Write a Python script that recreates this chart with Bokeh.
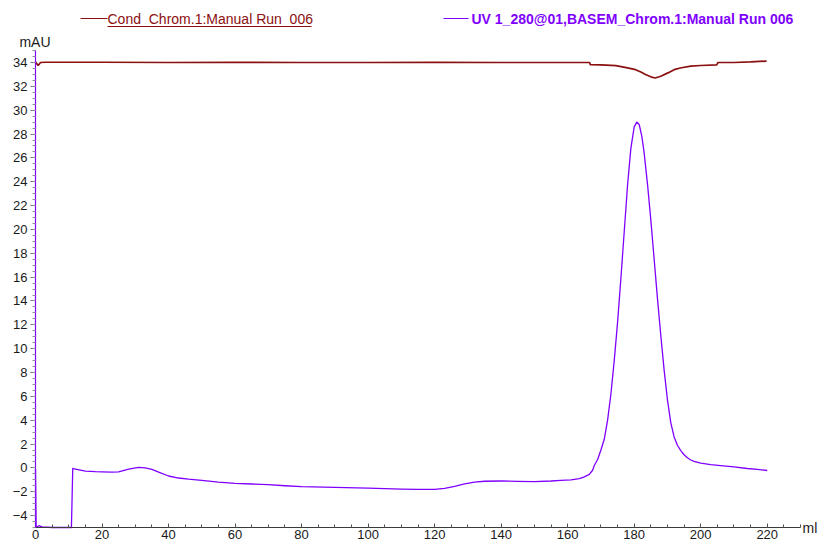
from bokeh.plotting import figure
from bokeh.models import Range1d, FixedTicker, Label
from bokeh.embed import file_html
from bokeh.resources import INLINE

# ---------------- data ----------------
uv_ml = [0.0, 0.2, 1.0, 2.0, 5.0, 10.8, 11.2, 12.0, 15.0, 18.0, 20.0, 23.0, 25.0, 28.0, 31.0, 33.0,
         35.0, 37.0, 40.0, 43.0, 46.0, 50.0, 55.0, 60.0, 65.0, 70.0, 75.0, 80.0, 90.0, 100.0, 110.0,
         115.0, 120.0, 123.0, 126.0, 129.0, 132.0, 135.0, 140.0, 145.0, 150.0, 155.0, 158.0, 161.0,
         163.5, 165.0, 166.5, 167.5, 168.0, 169.0, 170.0, 171.0, 172.0, 173.0, 174.0, 175.0, 176.0,
         177.0, 178.0, 179.0, 180.0, 180.8, 181.5, 182.3, 183.0, 184.0, 185.0, 186.0, 187.0, 188.0,
         189.0, 190.0, 191.0, 192.0, 193.0, 194.0, 195.0, 196.0, 197.0, 198.0, 200.0, 203.0, 206.0,
         210.0, 214.0, 217.0, 220.0]
uv_mau = [-0.1, -5.0, -4.85, -4.95, -5.0, -5.0, -0.05, -0.1, -0.28, -0.32, -0.33, -0.35, -0.33, -0.1,
          0.05, 0.0, -0.12, -0.35, -0.68, -0.85, -0.95, -1.05, -1.2, -1.3, -1.35, -1.4, -1.5, -1.58,
          -1.63, -1.7, -1.78, -1.8, -1.8, -1.72, -1.55, -1.35, -1.2, -1.12, -1.1, -1.13, -1.15, -1.1,
          -1.05, -1.0, -0.9, -0.75, -0.55, -0.2, 0.2, 0.7, 1.5, 2.4, 4.0, 6.2, 9.0, 12.2, 15.9, 19.8,
          23.7, 26.8, 28.6, 29.0, 28.8, 27.8, 26.4, 23.8, 20.8, 17.5, 14.2, 11.1, 8.2, 5.7, 3.8, 2.6,
          1.9, 1.45, 1.1, 0.85, 0.66, 0.54, 0.4, 0.28, 0.19, 0.08, -0.05, -0.12, -0.22]

cond_ml = [0.0, 0.8, 1.5, 3.0, 20.0, 40.0, 60.0, 80.0, 100.0, 120.0, 140.0, 160.0, 166.6, 166.8,
           170.0, 174.5, 178.0, 180.4, 182.0, 183.4, 185.0, 186.3, 188.0, 190.3, 192.0, 194.2, 197.0,
           200.0, 204.8, 205.2, 210.0, 215.0, 219.8]
cond_mau = [34.05, 33.75, 34.0, 34.02, 34.02, 34.0, 34.02, 34.0, 34.0, 34.02, 34.0, 34.0, 34.0, 33.82,
            33.8, 33.74, 33.55, 33.4, 33.2, 33.0, 32.8, 32.7, 32.85, 33.15, 33.4, 33.56, 33.7,
            33.75, 33.8, 34.0, 34.0, 34.05, 34.12]

x_major = [0, 20, 40, 60, 80, 100, 120, 140, 160, 180, 200, 220]
x_minor = list(range(0, 231, 5))
y_major = list(range(-4, 35, 2))
y_minor = [v / 2 for v in range(-10, 71)]

cond_name = "Cond_Chrom.1:Manual Run_006"
uv_name = "UV 1_280@01,BASEM_Chrom.1:Manual Run  006"
x_unit = "ml"
y_unit = "mAU"

# ---------------- layout ----------------
W, H = 818, 542
ORIGIN_X = 35          # canvas px of ml = 0
END_X = 800            # canvas px of ml = 230
SX = (END_X - ORIGIN_X) / 230.0
ROW_34 = 62            # canvas px of 34 mAU
ROW_M5 = 527           # canvas px of -5 mAU
SY = (ROW_M5 - ROW_34) / 39.0

X_START = -ORIGIN_X / SX
X_END = (W - ORIGIN_X) / SX
Y_TOP = 34 + ROW_34 / SY
Y_BOT = Y_TOP - H / SY

COND_C = "#8B1010"
UV_C = "#7F00FF"
FONT = "Liberation Sans"


def px_x(cx):
    return X_START + cx / SX


def px_y(cy):
    return Y_TOP - cy / SY


p = figure(width=W, height=H, output_backend="svg", toolbar_location=None,
           x_range=Range1d(X_START, X_END), y_range=Range1d(Y_BOT, Y_TOP),
           min_border_left=0, min_border_right=0, min_border_top=0,
           min_border_bottom=0)
p.outline_line_color = None
p.grid.visible = False
p.background_fill_color = "white"
p.border_fill_color = "white"

# x axis
xa = p.xaxis[0]
xa.fixed_location = -5
xa.bounds = (0, 230)
xa.ticker = FixedTicker(ticks=x_major, minor_ticks=x_minor)
xa.axis_line_color = "#3a3a3a"
xa.major_tick_line_color = "#505050"
xa.minor_tick_line_color = "#505050"
xa.major_tick_in = 4
xa.major_tick_out = 0
xa.minor_tick_in = 3
xa.minor_tick_out = 0
xa.major_label_standoff = 2
xa.major_label_text_font = FONT
xa.major_label_text_font_size = "13px"
xa.major_label_text_color = "#1a1a1a"

# y axis
ya = p.yaxis[0]
ya.fixed_location = 0
ya.bounds = (-5, 35)
ya.ticker = FixedTicker(ticks=y_major, minor_ticks=y_minor)
ya.axis_line_color = "#8000FF"
ya.axis_line_width = 1.2
ya.major_tick_line_color = "#707070"
ya.minor_tick_line_color = "#909090"
ya.major_tick_in = 0
ya.major_tick_out = 5
ya.minor_tick_in = 0
ya.minor_tick_out = 3
ya.major_label_standoff = 3
ya.major_label_text_font = FONT
ya.major_label_text_font_size = "13px"
ya.major_label_text_color = "#1a1a1a"

# data lines
p.line(cond_ml, cond_mau, line_color=COND_C, line_width=1.7)
p.line(uv_ml, uv_mau, line_color=UV_C, line_width=1.3, line_join="round")

# legend (top)
LEG_Y = 18
p.segment(x0=[px_x(80)], y0=[px_y(LEG_Y)], x1=[px_x(107)], y1=[px_y(LEG_Y)],
          line_color=COND_C, line_width=1.2)
p.add_layout(Label(x=px_x(107), y=px_y(LEG_Y), text=cond_name, text_font=FONT,
                   text_font_size="14px", text_color=COND_C, text_baseline="middle",
                   text_align="left"))
p.segment(x0=[px_x(107)], y0=[px_y(LEG_Y + 8)], x1=[px_x(311)], y1=[px_y(LEG_Y + 8)],
          line_color=COND_C, line_width=1.2)

p.segment(x0=[px_x(443)], y0=[px_y(LEG_Y)], x1=[px_x(468)], y1=[px_y(LEG_Y)],
          line_color=UV_C, line_width=1.2)
p.add_layout(Label(x=px_x(471), y=px_y(LEG_Y), text=uv_name, text_font=FONT,
                   text_font_size="14px", text_font_style="bold", text_color=UV_C,
                   text_baseline="middle", text_align="left"))

# unit labels
p.add_layout(Label(x=px_x(34.5), y=px_y(41), text=y_unit, text_font=FONT,
                   text_font_size="14px", text_color="#1a1a1a", text_baseline="middle",
                   text_align="center"))
p.add_layout(Label(x=px_x(END_X + 2), y=-5, text=x_unit, text_font=FONT,
                   text_font_size="14px", text_color="#1a1a1a", text_baseline="middle",
                   text_align="left"))

open("out.html", "w").write(file_html(p, INLINE))
